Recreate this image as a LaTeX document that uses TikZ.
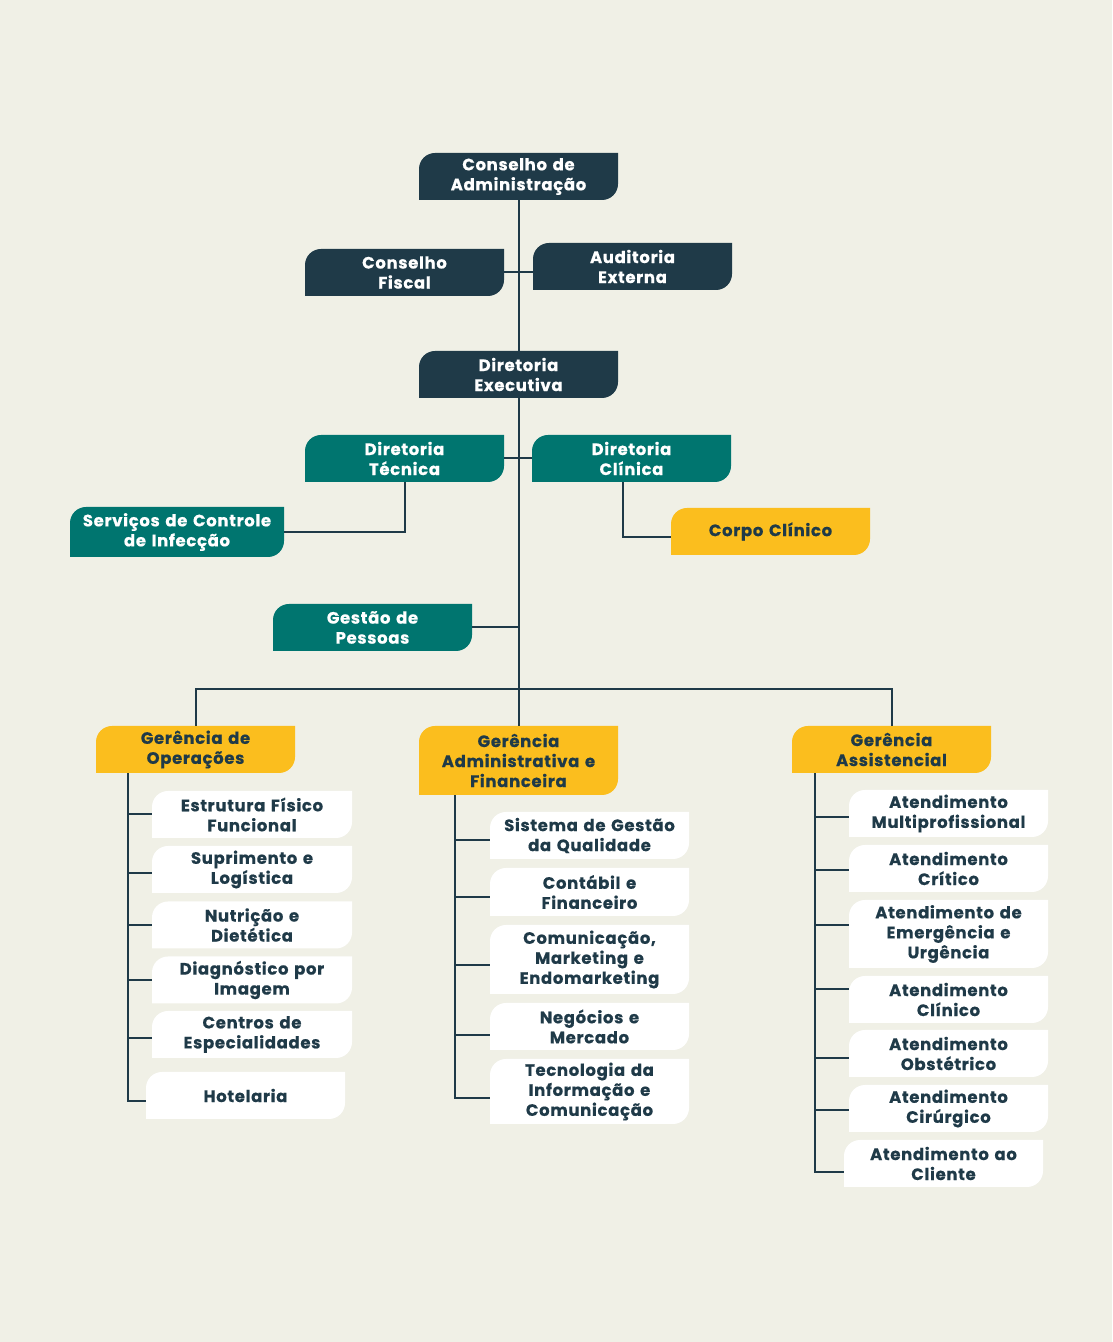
\documentclass[tikz,border=0pt]{standalone}
\usepackage{fontspec}
\setmainfont{Poppins}[LetterSpace=4,WordSpace=1.35,BoldFeatures={FakeBold=0.5}]
\usetikzlibrary{positioning,calc}
\definecolor{paper}{RGB}{240,240,230}
\definecolor{navy}{RGB}{31,58,72}
\definecolor{tealbox}{RGB}{0,117,111}
\definecolor{yellowbox}{RGB}{251,190,30}
\tikzset{
  leaf/.style={path picture={
    \fill[#1] (path picture bounding box.south west)
      -- ([yshift=-16pt]path picture bounding box.north west)
      arc[start angle=180,end angle=90,radius=16pt]
      -- (path picture bounding box.north east)
      -- ([yshift=16pt]path picture bounding box.south east)
      arc[start angle=0,end angle=-90,radius=16pt] -- cycle;}},
  orgnode/.style={leaf=navy,minimum width=199pt,minimum height=47pt,inner sep=2pt,
    align=center,font=\bfseries\fontsize{16.5}{20}\selectfont,text=white},
  orgnodet/.style={orgnode,leaf=tealbox},
  orgnodey/.style={orgnode,leaf=yellowbox,text=navy},
  orgnodew/.style={orgnode,leaf=white,text=navy},
  orgline/.style={line width=2pt,draw=navy}
}
\begin{document}
\begin{tikzpicture}[x=1pt,y=1pt]
  \fill[paper] (0,0) rectangle (1112,1342);
  % top of the chart
  \node[orgnode] (consadm) at (518.5,1165.5) {Conselho de\\Administração};
  \node[orgnode] (fiscal) at (404.5,1069.5) {Conselho\\Fiscal};
  \node[orgnode] (audit) at (632.5,1075.5) {Auditoria\\Externa};
  \node[orgnode] (direxec) at (518.5,967.5) {Diretoria\\Executiva};
  \node[orgnodet] (dirtec) at (404.5,883.5) {Diretoria\\Técnica};
  \node[orgnodet] (dirclin) at (631.5,883.5) {Diretoria\\Clínica};
  \node[orgnodet,minimum width=214pt,minimum height=50pt] (infec) at (177,810) {Serviços de Controle\\de Infecção};
  \node[orgnodey] (corpo) at (770.5,810.5) {Corpo Clínico};
  \node[orgnodet] (pessoas) at (372.5,714.5) {Gestão de\\Pessoas};
  % managements
  \node[orgnodey] (gerop) at (195.5,592.5) {Gerência de\\Operações};
  \node[orgnodey,minimum height=69pt] (geradm) at (518.5,581.5) {Gerência\\Administrativa e\\Financeira};
  \node[orgnodey] (gerass) at (891.5,592.5) {Gerência\\Assistencial};
  % operations
  \node[orgnodew,minimum width=200pt] (estrut) at (252,527.5) {Estrutura Físico\\Funcional};
  \node[orgnodew,minimum width=200pt] (supri) at (252,472.5) {Suprimento e\\Logística};
  \node[orgnodew,minimum width=200pt] (nutri) at (252,417) {Nutrição e\\Dietética};
  \node[orgnodew,minimum width=200pt] (diagn) at (252,362) {Diagnóstico por\\Imagem};
  \node[orgnodew,minimum width=200pt] (centros) at (252,307.5) {Centros de\\Especialidades};
  \node[orgnodew] (hotel) at (245.5,246.5) {Hotelaria};
  % administration and finance
  \node[orgnodew] (qualid) at (589.5,506.5) {Sistema de Gestão\\da Qualidade};
  \node[orgnodew,minimum height=48pt] (contab) at (589.5,450) {Contábil e\\Financeiro};
  \node[orgnodew,minimum height=69pt] (comunic) at (589.5,382.5) {Comunicação,\\Marketing e\\Endomarketing};
  \node[orgnodew] (negoc) at (589.5,315.5) {Negócios e\\Mercado};
  \node[orgnodew,minimum height=65pt] (tecno) at (589.5,250.5) {Tecnologia da\\Informação e\\Comunicação};
  % care
  \node[orgnodew] (multi) at (948.5,528.5) {Atendimento\\Multiprofissional};
  \node[orgnodew] (critico) at (948.5,473.5) {Atendimento\\Crítico};
  \node[orgnodew,minimum height=68pt] (emerg) at (948.5,408) {Atendimento de\\Emergência e\\Urgência};
  \node[orgnodew] (clinico) at (948.5,342.5) {Atendimento\\Clínico};
  \node[orgnodew] (obstet) at (948.5,288.5) {Atendimento\\Obstétrico};
  \node[orgnodew] (cirurg) at (948.5,233.5) {Atendimento\\Cirúrgico};
  \node[orgnodew] (cliente) at (943.5,178.5) {Atendimento ao\\Cliente};
  % connectors
  \coordinate (bus) at (518,653);
  \coordinate (opspine) at (128,0);
  \coordinate (admspine) at (455,0);
  \coordinate (assspine) at (815,0);
  \draw[orgline] (consadm.south) -- (direxec.north);
  \draw[orgline] (direxec.south) -- (geradm.north);
  \draw[orgline] (fiscal.east) -- (fiscal.east -| audit.west);
  \draw[orgline] (dirtec) -- (dirclin);
  \draw[orgline] (dirtec.south) |- (infec.east);
  \draw[orgline] ([xshift=-8.5pt]dirclin.south) |- ([yshift=-6pt]corpo.west);
  \draw[orgline] (pessoas.east) -- (pessoas.east -| bus);
  \draw[orgline] (gerop.north) |- (bus) -| (gerass.north);
  \draw[orgline] (gerop.south -| opspine) |- ([yshift=-5.5pt]hotel.west);
  \draw[orgline] (geradm.south -| admspine) |- ([yshift=-6.5pt]tecno.west);
  \draw[orgline] (gerass.south -| assspine) |- ([yshift=-8.5pt]cliente.west);
  \foreach \n/\d in {estrut/0,supri/-3.5,nutri/0,diagn/0,centros/-3.5}
    \draw[orgline] ([yshift=\d pt]\n.west) -- ([yshift=\d pt]\n.west -| opspine);
  \foreach \n/\d in {qualid/-4.5,contab/-5,comunic/-5.5,negoc/-8.5}
    \draw[orgline] ([yshift=\d pt]\n.west) -- ([yshift=\d pt]\n.west -| admspine);
  \foreach \n/\d in {multi/-3.5,critico/-1.5,emerg/9,clinico/10.5,obstet/-4.5,cirurg/-1.5}
    \draw[orgline] ([yshift=\d pt]\n.west) -- ([yshift=\d pt]\n.west -| assspine);
\end{tikzpicture}
\end{document}
